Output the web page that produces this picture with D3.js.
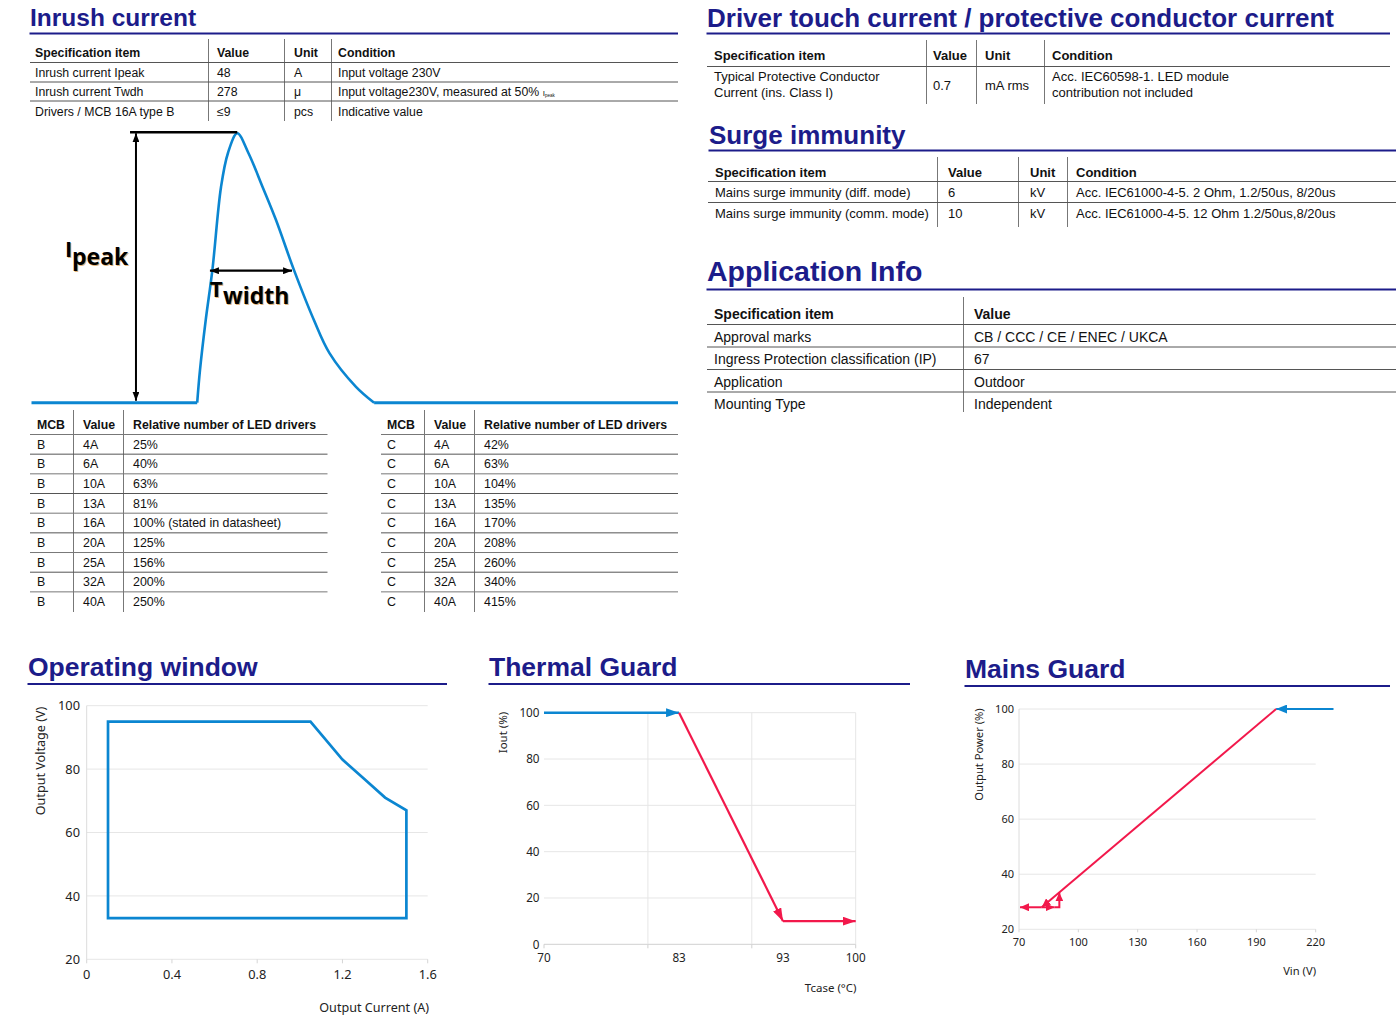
<!DOCTYPE html>
<html><head><meta charset="utf-8">
<script src="https://cdn.jsdelivr.net/npm/d3@7"></script>
<style>html,body{margin:0;padding:0;background:#fff;} svg{display:block}</style>
</head><body>
<svg id="c" width="1400" height="1036"></svg>
<script>
// ---------------- DATA ----------------
const inrushHeader = ["Specification item", "Value", "Unit", "Condition"];
const inrushItems = ["Inrush current Ipeak", "Inrush current Twdh", "Drivers / MCB 16A type B"];
const inrushValues = ["48", "278", "≤9"];
const inrushUnits = ["A", "μ", "pcs"];
const inrushConditions = ["Input voltage 230V", "Input voltage230V, measured at 50% ", "Indicative value"];
const inrushConditionSub = ["", "peak", ""];

// inrush pulse sketch (time in % of window, current relative to Ipeak)
const pulseTime = [25.63, 26.06, 26.95, 27.98, 29.31, 30.39, 31.83, 33.55, 35.76, 37.82, 40.59, 43.68, 46.09, 50.19, 53.0];
const pulseCurrent = [0, 0.121, 0.307, 0.493, 0.80, 0.927, 1.0, 0.927, 0.80, 0.678, 0.493, 0.307, 0.184, 0.059, 0];
const ipeakArrowTime = 16.16;
const ipeakLineTime = [15.24, 31.83];
const twidthTime = [27.6, 40.3];
const twidthLevel = 0.49;

const mcbHeader = ["MCB", "Value", "Relative number of LED drivers"];
const mcbRatings = ["4A", "6A", "10A", "13A", "16A", "20A", "25A", "32A", "40A"];
const mcbTypeB = ["25%", "40%", "63%", "81%", "100% (stated in datasheet)", "125%", "156%", "200%", "250%"];
const mcbTypeC = ["42%", "63%", "104%", "135%", "170%", "208%", "260%", "340%", "415%"];

const touchHeader = ["Specification item", "Value", "Unit", "Condition"];
const touchItem = ["Typical Protective Conductor", "Current (ins. Class I)"];
const touchValue = "0.7";
const touchUnit = "mA rms";
const touchCondition = ["Acc. IEC60598-1. LED module", "contribution not included"];

const surgeHeader = ["Specification item", "Value", "Unit", "Condition"];
const surgeItems = ["Mains surge immunity (diff. mode)", "Mains surge immunity (comm. mode)"];
const surgeValues = ["6", "10"];
const surgeUnits = ["kV", "kV"];
const surgeConditions = ["Acc. IEC61000-4-5. 2 Ohm, 1.2/50us, 8/20us", "Acc. IEC61000-4-5. 12 Ohm 1.2/50us,8/20us"];

const appHeader = ["Specification item", "Value"];
const appItems = ["Approval marks", "Ingress Protection classification (IP)", "Application", "Mounting Type"];
const appValues = ["CB / CCC / CE / ENEC / UKCA", "67", "Outdoor", "Independent"];

// Operating window
const opCurrent = [0.1, 0.1, 1.05, 1.2, 1.3, 1.4, 1.5, 1.5];
const opVoltage = [33, 95, 95, 83, 77, 71, 67, 33];
const opXTicks = [0, 0.4, 0.8, 1.2, 1.6];
const opXTickLabels = ["0", "0.4", "0.8", "1.2", "1.6"];
const opYTicks = [20, 40, 60, 80, 100];

// Thermal guard
const thermBlueT = [70, 83];
const thermBlueI = [100, 100];
const thermRedT = [83, 93, 100];
const thermRedI = [100, 10, 10];
const thermXTicks = [70, 83, 93, 100];
const thermXGrid = [80, 90, 100];
const thermYTicks = [0, 20, 40, 60, 80, 100];

// Mains guard
const mainsBlueV = [229, 200];
const mainsBlueP = [100, 100];
const mainsDownV = [200, 81.5];
const mainsDownP = [100, 28];
const mainsLeftV = [81.5, 70.5];
const mainsLeftP = [28, 28];
const mainsRightV = [81.5, 88];
const mainsRightP = [28, 28];
const mainsUpV = [88, 90.4, 90.4];
const mainsUpP = [28, 28, 33.4];
const mainsXTicks = [70, 100, 130, 160, 190, 220];
const mainsYTicks = [20, 40, 60, 80, 100];

// ---------------- STYLE ----------------
const NAVY = "#1c1c8a";
const BLUE = "#0b86d1";
const RED = "#f2184b";
const TXT = "#111";
const SANS = "'Liberation Sans', Arial, Helvetica, sans-serif";
const GEO = "'Noto Sans', 'Open Sans', sans-serif";
const GRID = "#e6e6e6";

const svg = d3.select("#c");
const defs = svg.append("defs");

function marker(id, color, len, wid, orient) {
  defs.append("marker").attr("id", id)
    .attr("markerUnits", "userSpaceOnUse")
    .attr("markerWidth", len).attr("markerHeight", wid)
    .attr("refX", len).attr("refY", wid / 2)
    .attr("orient", orient || "auto")
    .append("path").attr("d", `M0,0L${len},${wid / 2}L0,${wid}Z`).attr("fill", color);
}
marker("blk", "#000", 9, 7, "auto-start-reverse");
marker("tb", BLUE, 13, 9);
marker("tr", RED, 13, 9);
marker("mb", BLUE, 11, 9);
marker("mr", RED, 9, 8);

function title(x, y, text, size, x2, uy) {
  svg.append("text").attr("x", x).attr("y", y).attr("font-family", SANS)
    .attr("font-weight", "bold").attr("font-size", size).attr("fill", NAVY).text(text);
  svg.append("line").attr("x1", x - 0.5).attr("x2", x2).attr("y1", uy).attr("y2", uy)
    .attr("stroke", NAVY).attr("stroke-width", 2);
}
function hl(x1, x2, y, c, w) {
  svg.append("line").attr("x1", x1).attr("x2", x2).attr("y1", y).attr("y2", y)
    .attr("stroke", c || "#555").attr("stroke-width", w || 1);
}
function vl(x, y1, y2, c) {
  svg.append("line").attr("x1", x).attr("x2", x).attr("y1", y1).attr("y2", y2)
    .attr("stroke", c || "#777").attr("stroke-width", 1);
}
function tx(x, y, s, size, bold, anchor, fam, col) {
  return svg.append("text").attr("x", x).attr("y", y).attr("font-family", fam || SANS)
    .attr("font-size", size).attr("font-weight", bold ? "bold" : "normal")
    .attr("text-anchor", anchor || "start").attr("fill", col || TXT).text(s);
}

// ---------------- INRUSH CURRENT ----------------
title(30, 26, "Inrush current", 24.5, 678, 33.5);
{
  const cols = [35, 217, 294, 338];
  [208.5, 284.5, 331.5].forEach(x => vl(x, 39, 121));
  [62.5, 82, 101].forEach(y => hl(30, 678, y));
  inrushHeader.forEach((h, i) => tx(cols[i], 56.5, h, 12.3, true));
  const rb = [76.5, 96, 115.5];
  inrushItems.forEach((s, i) => {
    tx(cols[0], rb[i], s, 12.3);
    tx(cols[1], rb[i], inrushValues[i], 12.3);
    tx(cols[2], rb[i], inrushUnits[i], 12.3);
    const t = tx(cols[3], rb[i], inrushConditions[i], 12.3);
    if (inrushConditionSub[i]) {
      t.append("tspan").attr("font-size", 8).text("I");
      t.append("tspan").attr("font-size", 4.5).attr("dy", 1).text(inrushConditionSub[i]);
    }
  });
}

// pulse sketch
{
  const px = d3.scaleLinear().domain([0, 100]).range([31.5, 678]);
  const py = d3.scaleLinear().domain([0, 1]).range([402.7, 133.3]);
  const pts = pulseTime.map((t, i) => [t, pulseCurrent[i]]);
  const lin = d3.line().x(d => px(d[0])).y(d => py(d[1]));
  const g = svg.append("g");
  g.append("path").attr("d", lin([[0, 0], [pulseTime[0], 0]])).attr("stroke", BLUE).attr("stroke-width", 3).attr("fill", "none");
  g.append("path").attr("d", lin([[pulseTime[pulseTime.length - 1], 0], [100, 0]])).attr("stroke", BLUE).attr("stroke-width", 3).attr("fill", "none");
  g.append("path").attr("d", d3.line().x(d => px(d[0])).y(d => py(d[1])).curve(d3.curveCatmullRom.alpha(0.5))(pts))
    .attr("stroke", BLUE).attr("stroke-width", 2.6).attr("fill", "none");
  // Ipeak marker
  g.append("line").attr("x1", px(ipeakLineTime[0])).attr("x2", px(ipeakLineTime[1]))
    .attr("y1", py(1) - 1).attr("y2", py(1) - 1).attr("stroke", "#000").attr("stroke-width", 2.5);
  g.append("line").attr("x1", px(ipeakArrowTime)).attr("x2", px(ipeakArrowTime))
    .attr("y1", py(1)).attr("y2", py(0) - 2).attr("stroke", "#000").attr("stroke-width", 2)
    .attr("marker-start", "url(#blk)").attr("marker-end", "url(#blk)");
  g.append("line").attr("x1", px(twidthTime[0])).attr("x2", px(twidthTime[1]))
    .attr("y1", py(twidthLevel)).attr("y2", py(twidthLevel)).attr("stroke", "#000").attr("stroke-width", 2.2)
    .attr("marker-start", "url(#blk)").attr("marker-end", "url(#blk)");
  const LBL = "'Open Sans', 'Noto Sans', sans-serif";
  function lab(x, y, s, size) {
    tx(x + 1, y + 1, s, size, true, "start", LBL, "#c77a10").attr("opacity", 0.55);
    tx(x, y, s, size, true, "start", LBL, "#000");
  }
  lab(65, 257, "I", 22);
  lab(72, 265, "peak", 23);
  lab(210, 297, "T", 22);
  lab(223, 304, "width", 23);
}

// MCB tables
function mcbTable(x0, x1, cols, vls, type, vals) {
  vls.forEach(x => vl(x, 410, 612));
  for (let i = 0; i < mcbRatings.length; i++) hl(x0, x1, 434.5 + i * 19.67, i % 2 === 0 ? "#777" : "#555");
  mcbHeader.forEach((h, i) => tx(cols[i], 429.3, h, 12.3, true));
  mcbRatings.forEach((r, i) => {
    const y = 448.6 + i * 19.67;
    tx(cols[0], y, type, 12.4);
    tx(cols[1], y, r, 12.4);
    tx(cols[2], y, vals[i], 12.4);
  });
}
mcbTable(30, 327.5, [37, 83, 133], [73.5, 123.5], "B", mcbTypeB);
mcbTable(381, 678, [387, 434, 484], [424.5, 474.5], "C", mcbTypeC);

// ---------------- DRIVER TOUCH CURRENT ----------------
title(707, 26.5, "Driver touch current / protective conductor current", 26, 1390, 33.5);
{
  const cols = [714, 933, 985, 1052];
  [926.5, 976.5, 1044.5].forEach(x => vl(x, 40, 104));
  hl(707, 1390, 66.5);
  touchHeader.forEach((h, i) => tx(cols[i], 59.5, h, 13, true));
  tx(cols[0], 81, touchItem[0], 13); tx(cols[0], 96.5, touchItem[1], 13);
  tx(cols[1], 89.5, touchValue, 13);
  tx(cols[2], 89.5, touchUnit, 13);
  tx(cols[3], 81, touchCondition[0], 13); tx(cols[3], 96.5, touchCondition[1], 13);
}

// ---------------- SURGE IMMUNITY ----------------
title(709, 143.5, "Surge immunity", 26, 1396, 150.5);
{
  const cols = [715, 948, 1030, 1076];
  [937.5, 1018.5, 1067.5].forEach(x => vl(x, 157, 227));
  [181.5, 202.5].forEach(y => hl(708, 1396, y));
  surgeHeader.forEach((h, i) => tx(cols[i], 176.5, h, 13, true));
  const rb = [197, 218];
  surgeItems.forEach((s, i) => {
    tx(cols[0], rb[i], s, 13);
    tx(cols[1], rb[i], surgeValues[i], 13);
    tx(cols[2], rb[i], surgeUnits[i], 13);
    tx(cols[3], rb[i], surgeConditions[i], 13);
  });
}

// ---------------- APPLICATION INFO ----------------
title(707, 281, "Application Info", 28.5, 1396, 289.5);
{
  const cols = [714, 974];
  vl(963.5, 297, 412);
  [324.5, 347, 369.5, 392].forEach(y => hl(707, 1396, y));
  appHeader.forEach((h, i) => tx(cols[i], 318.5, h, 14, true));
  const rb = [341.5, 364, 386.5, 409];
  appItems.forEach((s, i) => {
    tx(cols[0], rb[i], s, 14);
    tx(cols[1], rb[i], appValues[i], 14);
  });
}

// ---------------- OPERATING WINDOW ----------------
title(28, 676, "Operating window", 26.5, 447, 684);
{
  const x = d3.scaleLinear().domain([0, 1.6]).range([86.7, 427.7]);
  const y = d3.scaleLinear().domain([20, 100]).range([959.3, 705.7]);
  const g = svg.append("g");
  opYTicks.forEach(v => g.append("line").attr("x1", x(0)).attr("x2", x(1.6)).attr("y1", y(v)).attr("y2", y(v)).attr("stroke", GRID));
  g.append("line").attr("x1", x(0)).attr("x2", x(0)).attr("y1", y(100)).attr("y2", y(20)).attr("stroke", "#dcdcdc");
  opXTicks.forEach(v => g.append("line").attr("x1", x(v)).attr("x2", x(v)).attr("y1", y(20)).attr("y2", y(20) + 4).attr("stroke", "#d5d5d5"));
  opYTicks.forEach(v => tx(80, y(v) + 4.6, String(v), 12.8, false, "end", GEO, "#222"));
  opXTicks.forEach((v, i) => tx(x(v), 978.6, opXTickLabels[i], 12.8, false, "middle", GEO, "#222"));
  svg.append("text").attr("transform", "translate(45.2,761) rotate(-90)").attr("text-anchor", "middle")
    .attr("font-family", GEO).attr("font-size", 12.6).attr("fill", "#222").text("Output Voltage (V)");
  tx(429, 1011.8, "Output Current (A)", 12.6, false, "end", GEO, "#222");
  const pts = opCurrent.map((c, i) => [c, opVoltage[i]]);
  g.append("path").attr("d", d3.line().x(d => x(d[0])).y(d => y(d[1]))(pts) + "Z")
    .attr("fill", "none").attr("stroke", BLUE).attr("stroke-width", 2.7).attr("stroke-linejoin", "miter");
}

// ---------------- THERMAL GUARD ----------------
title(489, 676, "Thermal Guard", 26.5, 910, 684);
{
  const x = d3.scaleLinear().domain([70, 100]).range([544, 855.7]);
  const y = d3.scaleLinear().domain([0, 100]).range([944.3, 712.7]);
  const g = svg.append("g");
  thermYTicks.forEach(v => g.append("line").attr("x1", x(70)).attr("x2", x(100)).attr("y1", y(v)).attr("y2", y(v))
    .attr("stroke", v === 0 ? "#d0d0d0" : GRID));
  thermXGrid.forEach(v => g.append("line").attr("x1", x(v)).attr("x2", x(v)).attr("y1", y(100)).attr("y2", y(0)).attr("stroke", GRID));
  [70].concat(thermXGrid).forEach(v => g.append("line").attr("x1", x(v)).attr("x2", x(v)).attr("y1", y(0)).attr("y2", y(0) + 4).attr("stroke", "#d0d0d0"));
  thermYTicks.forEach(v => tx(539.5, y(v) + 4.2, String(v), 11.7, false, "end", GEO, "#222"));
  thermXTicks.forEach(v => tx(x(v), 961.5, String(v), 11.7, false, "middle", GEO, "#222"));
  svg.append("text").attr("transform", "translate(507.3,711.7) rotate(-90)").attr("text-anchor", "end")
    .attr("font-family", GEO).attr("font-size", 11.5).attr("fill", "#222").text("Iout (%)");
  tx(856.5, 992.3, "Tcase (°C)", 11.5, false, "end", GEO, "#222");
  const ln = d3.line().x(d => x(d[0])).y(d => y(d[1]));
  g.append("path").attr("d", ln(thermBlueT.map((t, i) => [t, thermBlueI[i]])))
    .attr("stroke", BLUE).attr("stroke-width", 2.4).attr("fill", "none").attr("marker-end", "url(#tb)");
  for (let i = 0; i < thermRedT.length - 1; i++) {
    g.append("path").attr("d", ln([[thermRedT[i], thermRedI[i]], [thermRedT[i + 1], thermRedI[i + 1]]]))
      .attr("stroke", RED).attr("stroke-width", 2.2).attr("fill", "none").attr("marker-end", "url(#tr)");
  }
}

// ---------------- MAINS GUARD ----------------
title(965, 678, "Mains Guard", 26.5, 1390, 686);
{
  const x = d3.scaleLinear().domain([70, 220]).range([1019, 1315.7]);
  const y = d3.scaleLinear().domain([20, 100]).range([929.3, 709]);
  const g = svg.append("g");
  mainsYTicks.forEach(v => g.append("line").attr("x1", x(70)).attr("x2", x(220)).attr("y1", y(v)).attr("y2", y(v)).attr("stroke", GRID));
  g.append("line").attr("x1", x(70)).attr("x2", x(70)).attr("y1", y(100)).attr("y2", y(20)).attr("stroke", "#dcdcdc");
  mainsXTicks.forEach(v => g.append("line").attr("x1", x(v)).attr("x2", x(v)).attr("y1", y(20)).attr("y2", y(20) + 3).attr("stroke", "#d5d5d5"));
  mainsYTicks.forEach(v => tx(1014, y(v) + 4, String(v), 11, false, "end", GEO, "#222"));
  mainsXTicks.forEach(v => tx(x(v), 945.7, String(v), 11, false, "middle", GEO, "#222"));
  svg.append("text").attr("transform", "translate(983.3,708.3) rotate(-90)").attr("text-anchor", "end")
    .attr("font-family", GEO).attr("font-size", 11.2).attr("fill", "#222").text("Output Power (%)");
  tx(1316, 974.7, "Vin (V)", 11.2, false, "end", GEO, "#222");
  const ln = d3.line().x(d => x(d[0])).y(d => y(d[1]));
  const seg = (vs, ps, col, w, m) => g.append("path").attr("d", ln(vs.map((v, i) => [v, ps[i]])))
    .attr("stroke", col).attr("stroke-width", w).attr("fill", "none").attr("marker-end", `url(#${m})`);
  seg(mainsBlueV, mainsBlueP, BLUE, 2.2, "mb");
  seg(mainsDownV, mainsDownP, RED, 2, "mr");
  seg(mainsLeftV, mainsLeftP, RED, 2, "mr");
  seg(mainsRightV, mainsRightP, RED, 2, "mr");
  seg(mainsUpV, mainsUpP, RED, 2, "mr");
}
</script>
</body></html>
